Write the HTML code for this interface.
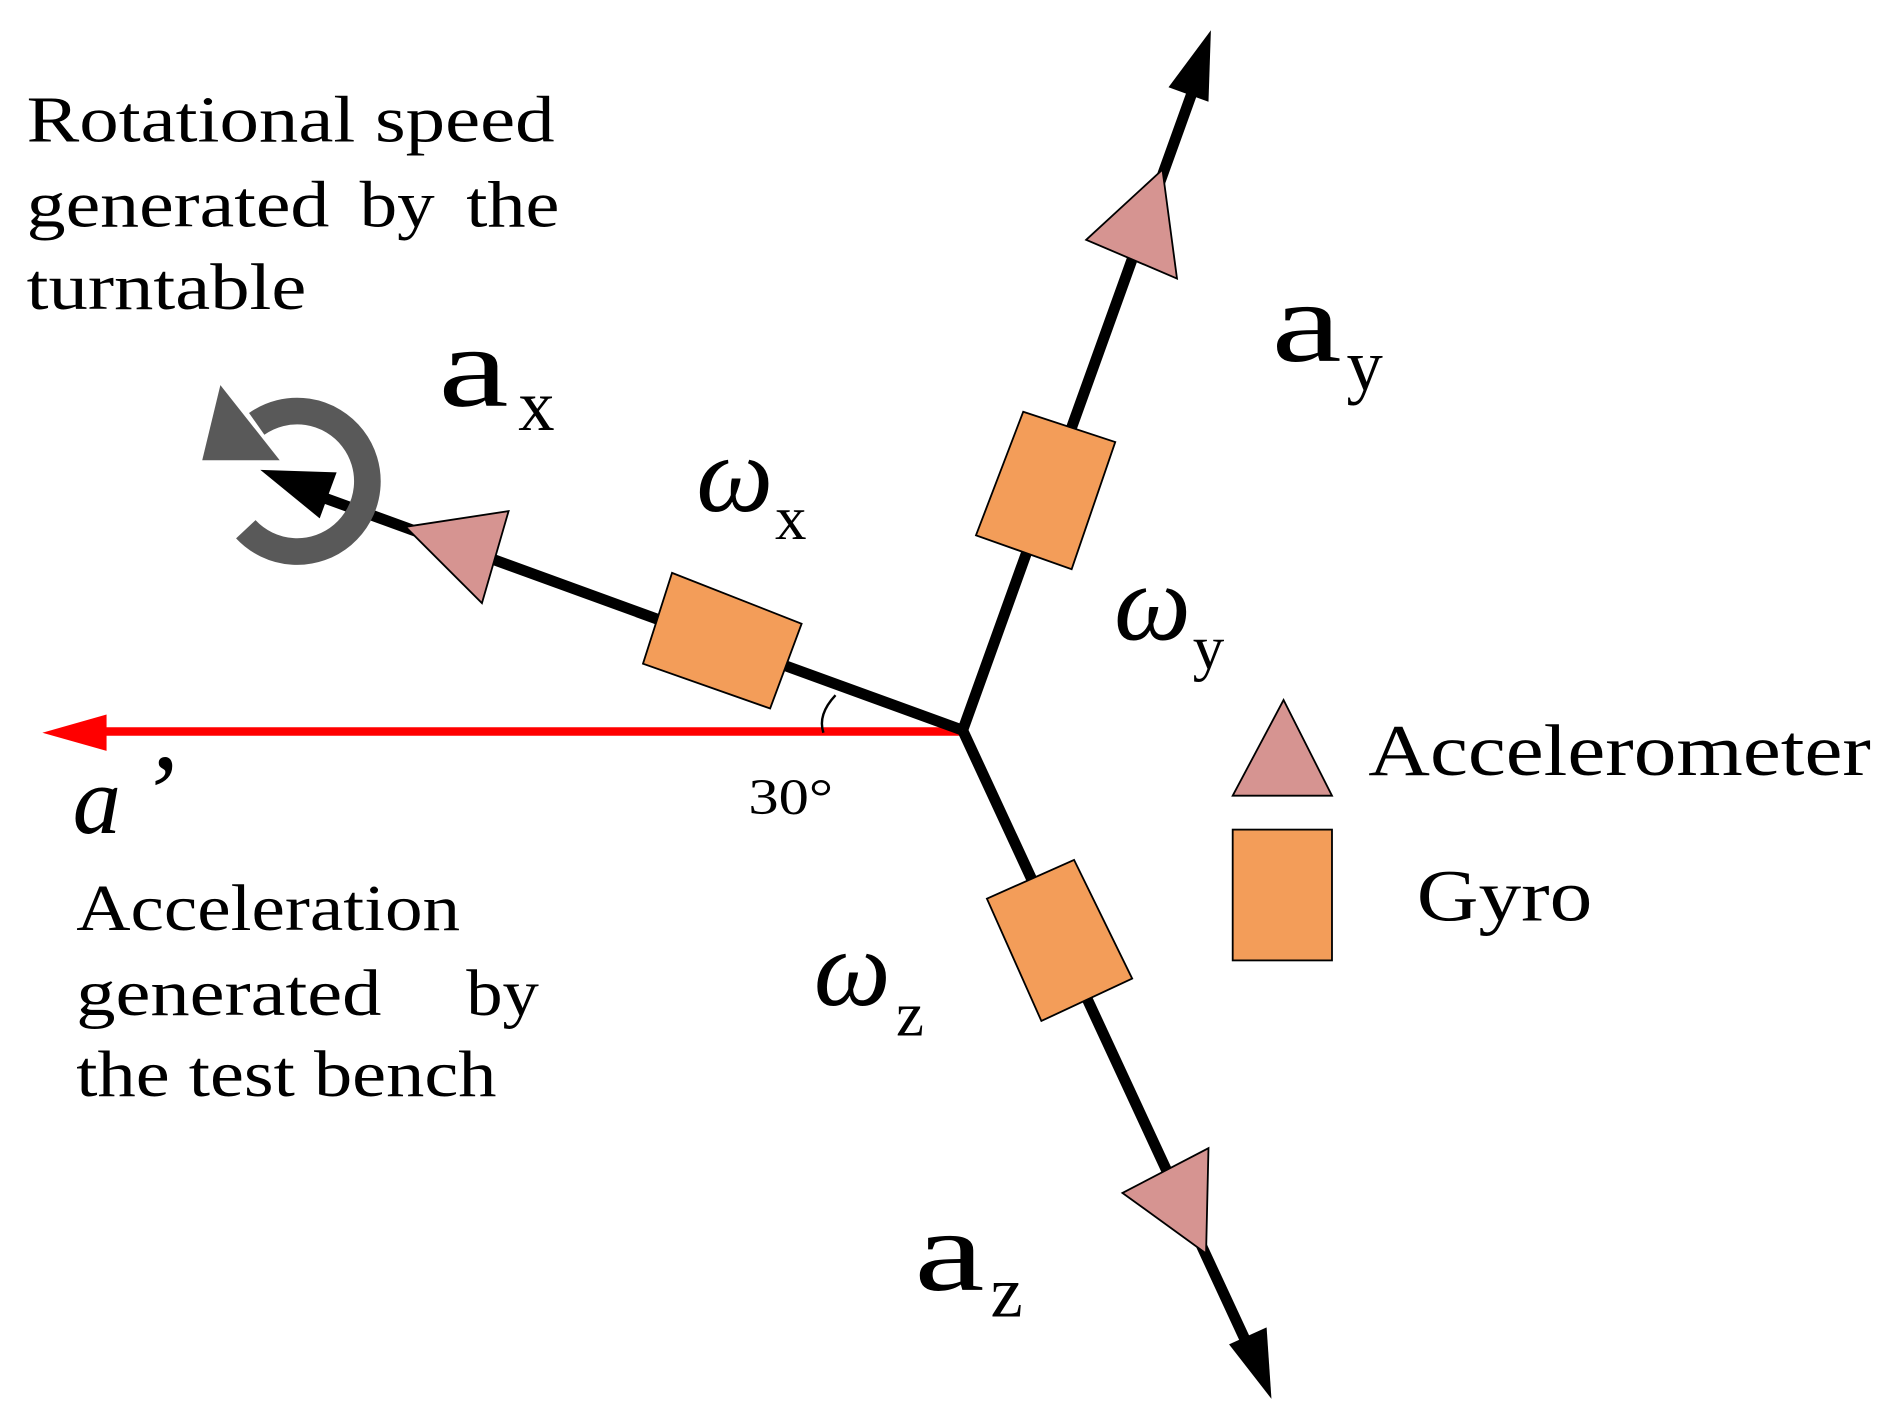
<!DOCTYPE html>
<html><head><meta charset="utf-8"><style>
html,body{margin:0;padding:0;background:#fff;}
svg{display:block;}
text{font-family:"Liberation Serif",serif;fill:#000;}
</style></head><body>
<svg width="1889" height="1417" viewBox="0 0 1560 1170" preserveAspectRatio="none">
<line x1="795" y1="604" x2="80" y2="604" stroke="#ff0000" stroke-width="7"/>
<polygon points="35,605 88,590 88,620" fill="#ff0000"/>
<line x1="795" y1="603" x2="262" y2="409" stroke="#000" stroke-width="9"/>
<polygon points="215,388 278,390 264,428" fill="#000"/>
<line x1="795" y1="603" x2="985" y2="75" stroke="#000" stroke-width="9"/>
<polygon points="1000,25 965,72 998,84" fill="#000"/>
<line x1="795" y1="603" x2="1030" y2="1110" stroke="#000" stroke-width="9"/>
<polygon points="1050,1155 1015,1110 1046,1096" fill="#000"/>
<path d="M680,605 Q675,590 690,574" fill="none" stroke="#000" stroke-width="2"/>
<polygon points="555,473 662,515 636,585 531,548" fill="#f39d59" stroke="#000" stroke-width="1.5"/>
<polygon points="845,340 921,365 885,470 806,442" fill="#f39d59" stroke="#000" stroke-width="1.5"/>
<polygon points="815,742 887,710 935,808 860,843" fill="#f39d59" stroke="#000" stroke-width="1.5"/>
<polygon points="335,435 420,422 398,498" fill="#d69491" stroke="#000" stroke-width="1.5"/>
<polygon points="897,198 960,140 972,230" fill="#d69491" stroke="#000" stroke-width="1.5"/>
<polygon points="927,985 998,948 996,1035" fill="#d69491" stroke="#000" stroke-width="1.5"/>
<path d="M212,350 A58,58 0 1 1 203,437" fill="none" stroke="#595959" stroke-width="22"/>
<polygon points="182,318 167,380 231,380" fill="#595959"/>
<polygon points="1018,657 1060,578 1100,657" fill="#d69491" stroke="#000" stroke-width="1.5"/>
<rect x="1018" y="685" width="82" height="108" fill="#f39d59" stroke="#000" stroke-width="1.5"/>
<text x="1130" y="640" font-size="60" textLength="415" lengthAdjust="spacingAndGlyphs">Accelerometer</text>
<text x="1170" y="760" font-size="60" textLength="145" lengthAdjust="spacingAndGlyphs">Gyro</text>
<text x="22" y="117" font-size="54" textLength="436" lengthAdjust="spacingAndGlyphs">Rotational speed</text>
<text x="22" y="187" font-size="54" textLength="250" lengthAdjust="spacingAndGlyphs">generated</text>
<text x="297" y="187" font-size="54" textLength="62" lengthAdjust="spacingAndGlyphs">by</text>
<text x="385" y="187" font-size="54" textLength="77" lengthAdjust="spacingAndGlyphs">the</text>
<text x="22" y="255" font-size="54" textLength="231" lengthAdjust="spacingAndGlyphs">turntable</text>
<text x="63" y="768" font-size="54" textLength="317" lengthAdjust="spacingAndGlyphs">Acceleration</text>
<text x="63" y="838" font-size="54" textLength="252" lengthAdjust="spacingAndGlyphs">generated</text>
<text x="385" y="838" font-size="54" textLength="60" lengthAdjust="spacingAndGlyphs">by</text>
<text x="63" y="905" font-size="54" textLength="347" lengthAdjust="spacingAndGlyphs">the test bench</text>
<text x="60" y="688" font-size="80" font-style="italic">a</text>
<text x="115" y="685" font-size="90" font-style="italic">’</text>
<text x="618" y="672" font-size="42" textLength="70" lengthAdjust="spacingAndGlyphs">30°</text>
<text x="362" y="335" font-size="95" textLength="58" lengthAdjust="spacingAndGlyphs">a</text><text x="428" y="355" font-size="60">x</text>
<text x="1050" y="298" font-size="95" textLength="58" lengthAdjust="spacingAndGlyphs">a</text><text x="1112" y="322" font-size="60">y</text>
<text x="755" y="1065" font-size="95" textLength="58" lengthAdjust="spacingAndGlyphs">a</text><text x="818" y="1087" font-size="60">z</text>
<text x="575" y="422" font-size="90" font-style="italic">ω</text><text x="640" y="445" font-size="52">x</text>
<text x="920" y="528" font-size="90" font-style="italic">ω</text><text x="985" y="552" font-size="52">y</text>
<text x="672" y="830" font-size="90" font-style="italic">ω</text><text x="740" y="855" font-size="52">z</text>
</svg>
</body></html>
